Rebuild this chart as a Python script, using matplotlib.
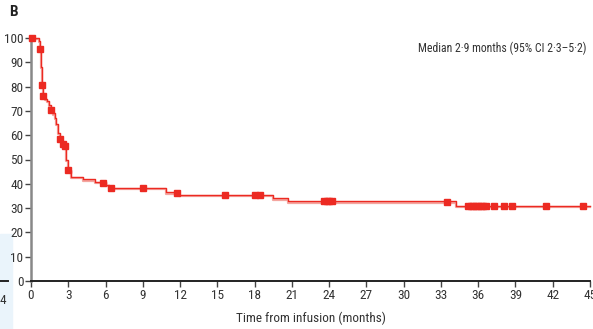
import matplotlib
matplotlib.use("Agg")
import matplotlib.pyplot as plt
from matplotlib.patches import Rectangle
from matplotlib import font_manager

# Kaplan-Meier step curve
step_t = [0, 0.67, 0.72, 0.8, 0.89, 0.97, 1.1, 1.25, 1.45, 1.6, 1.75, 1.9, 2.05,
          2.2, 2.33, 2.5, 2.7, 2.8, 2.95, 3.2, 4.16, 5.15, 6.05, 6.3, 10.87,
          11.94, 19.5, 20.67, 34.2, 45.0]
step_s = [100, 98.9, 96, 88, 81, 76, 75, 74, 72.5, 70.5, 69, 67, 64.5,
          61, 58.6, 56.5, 55.5, 50, 45.7, 42.8, 41.8, 40.7, 39.5, 38.4, 36.5,
          35.3, 34.0, 32.8, 31.0, 31.0]

# censored observations
cens_t = [0.05, 0.7, 0.89, 0.97, 1.61, 2.33, 2.58, 2.74, 2.95, 5.77, 6.41, 9.0,
          11.73, 15.6, 18.0, 18.44, 23.6, 23.8, 24.0, 24.2, 33.5, 35.2, 35.4,
          35.6, 35.8, 36.0, 36.2, 36.4, 36.6, 37.25, 38.1, 38.7, 41.45, 44.45]
cens_s = [100, 95.5, 80.7, 76, 70.4, 58.6, 56.4, 55.6, 45.7, 40.5, 38.4, 38.4,
          36.3, 35.3, 35.3, 35.3, 32.8, 32.8, 32.8, 32.8, 32.7, 31.0, 31.0,
          31.0, 31.0, 31.0, 31.0, 31.0, 31.0, 31.0, 31.0, 31.0, 31.0, 31.0]

xticks = list(range(0, 46, 3))
yticks = list(range(0, 101, 10))

names = {f.name for f in font_manager.fontManager.ttflist}
narrow = [n for n in ("Liberation Sans Narrow", "Roboto Condensed", "Open Sans Condensed")
          if n in names]
plt.rcParams["font.family"] = narrow + ["DejaVu Sans"]
plt.rcParams["font.stretch"] = "condensed"

fig = plt.figure(figsize=(5.93, 3.29), dpi=100)

# page artefacts at the left edge
fig.patches.append(Rectangle((0, 0), 12 / 593, 95 / 329, transform=fig.transFigure,
                             color="#eaf4fb", zorder=-5))

ax = fig.add_axes([31 / 593, 48 / 329, 559 / 593, 243 / 329])

red = "#ec2a22"
ax.step(step_t, [s - 0.5 for s in step_s], where="post", color="#f4a6a0", lw=1.6,
        zorder=2, clip_on=False)
ax.step(step_t, step_s, where="post", color=red, lw=1.0, zorder=3, clip_on=False)
ax.plot(cens_t, cens_s, ls="none", marker="s", ms=5, color=red, zorder=4,
        clip_on=False)

ax.set_xlim(0, 45)
ax.set_ylim(0, 100)
ax.set_xticks(xticks)
ax.set_yticks(yticks)
ax.tick_params(labelsize=9.5, length=4, width=1, color="#444444", labelcolor="#333333",
               pad=1.5)
for s in ("top", "right"):
    ax.spines[s].set_visible(False)
ax.spines["left"].set_color("#888888")
ax.spines["left"].set_linewidth(1.8)
ax.spines["bottom"].set_color("#222222")
ax.spines["bottom"].set_linewidth(1.4)

ax.set_xlabel("Time from infusion (months)", fontsize=9.5, color="#333333", labelpad=7)
ax.text(0.994, 0.985, "Median 2·9 months (95% CI 2·3–5·2)", transform=ax.transAxes,
        ha="right", va="top", fontsize=8.5, color="#333333")
fig.text(9 / 593, 1 - 12 / 329, "B", fontsize=11, fontweight="bold", color="#222222",
         ha="left", va="center")

fig.lines.append(plt.Line2D([0, 8 / 593], [48 / 329, 48 / 329], transform=fig.transFigure,
                            color="#222222", lw=1.4))
fig.text(0, 1 - 300 / 329, "4", fontsize=9.5, color="#333333", ha="left", va="center")

fig.savefig("out.png", dpi=100)
